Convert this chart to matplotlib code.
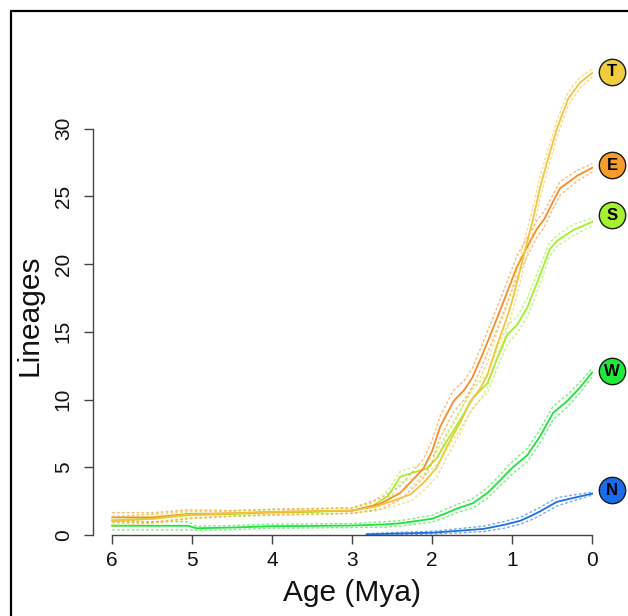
import matplotlib
matplotlib.use("Agg")
import matplotlib.pyplot as plt
from matplotlib.patches import Rectangle
import numpy as np

plt.rcParams["font.family"] = ["Liberation Sans", "DejaVu Sans"]

# ── Lineage-through-time curves (mean + CI half-width) per clade ──

T_AGE = [6, 5.5, 5.05, 4.5, 4, 3.5, 3, 2.7, 2.5, 2.27, 2.1, 1.94, 1.81, 1.65,
         1.52, 1.4, 1.31, 1.19, 1.05, 0.99, 0.84, 0.74, 0.65, 0.56, 0.44, 0.3, 0.15, 0]
T_VAL = [1.0, 1.2, 1.5, 1.6, 1.7, 1.75, 1.8, 2.1, 2.5, 3.0, 3.9, 5.0, 6.6, 8.3,
         9.9, 10.8, 11.8, 14.0, 16.3, 17.5, 21.0, 23.3, 25.7, 27.6, 30.0, 32.2, 33.4, 34.1]
T_CI = [0.35, 0.35, 0.3, 0.2, 0.2, 0.2, 0.2, 0.3, 0.4, 0.5, 0.6, 0.7, 0.8, 0.8,
        0.8, 0.8, 0.9, 0.9, 0.9, 0.9, 0.9, 0.9, 0.8, 0.7, 0.6, 0.5, 0.4, 0.3]

E_AGE = [6, 5.5, 5.05, 4.5, 4, 3.5, 3, 2.65, 2.4, 2.11, 2.0, 1.9, 1.73, 1.6,
         1.5, 1.38, 1.27, 1.11, 0.94, 0.8, 0.69, 0.6, 0.49, 0.4, 0.19, 0]
E_VAL = [1.3, 1.3, 1.55, 1.6, 1.7, 1.75, 1.8, 2.3, 3.1, 4.9, 6.2, 8.0, 9.9, 10.7,
         11.6, 13.2, 14.8, 17.2, 19.8, 21.4, 22.6, 23.3, 24.6, 25.6, 26.5, 27.1]
E_CI = [0.35, 0.35, 0.3, 0.2, 0.2, 0.2, 0.2, 0.4, 0.5, 0.7, 0.8, 0.8, 0.8, 0.7,
        0.7, 0.8, 0.8, 0.8, 0.8, 0.7, 0.6, 0.6, 0.5, 0.5, 0.4, 0.3]

S_AGE = [6, 5.5, 5.05, 4.5, 4, 3.5, 3, 2.75, 2.55, 2.4, 2.24, 2.07, 1.94, 1.81,
         1.65, 1.49, 1.31, 1.19, 1.06, 0.94, 0.81, 0.69, 0.6, 0.53, 0.44, 0.24, 0]
S_VAL = [1.1, 1.2, 1.45, 1.55, 1.65, 1.7, 1.8, 2.1, 2.9, 4.3, 4.6, 4.9, 5.7, 7.0,
         8.5, 10.1, 11.2, 13.0, 14.8, 15.5, 16.8, 18.6, 20.0, 21.1, 21.7, 22.5, 23.1]
S_CI = [0.3, 0.3, 0.25, 0.2, 0.2, 0.2, 0.2, 0.3, 0.4, 0.4, 0.4, 0.4, 0.5, 0.6,
        0.7, 0.7, 0.7, 0.7, 0.7, 0.6, 0.7, 0.7, 0.6, 0.5, 0.4, 0.4, 0.3]

W_AGE = [6, 5.05, 4.95, 4.5, 4, 3.5, 3, 2.6, 2.4, 2.0, 1.85, 1.69, 1.49, 1.31,
         1.19, 1.06, 0.99, 0.81, 0.65, 0.49, 0.31, 0.15, 0]
W_VAL = [0.68, 0.68, 0.5, 0.55, 0.65, 0.67, 0.7, 0.78, 0.86, 1.2, 1.55, 1.95, 2.35, 3.1,
         3.8, 4.6, 5.0, 5.9, 7.3, 9.0, 9.9, 10.9, 12.0]
W_CI = [0.3, 0.3, 0.15, 0.15, 0.15, 0.15, 0.15, 0.2, 0.2, 0.25, 0.3, 0.3, 0.35, 0.4,
        0.4, 0.45, 0.45, 0.5, 0.5, 0.5, 0.45, 0.4, 0.3]

N_AGE = [2.82, 2.5, 2.0, 1.7, 1.36, 1.1, 0.9, 0.75, 0.65, 0.44, 0.19, 0]
N_VAL = [0.05, 0.1, 0.17, 0.3, 0.45, 0.75, 1.05, 1.45, 1.75, 2.45, 2.8, 3.05]
N_CI = [0.05, 0.08, 0.1, 0.15, 0.2, 0.25, 0.25, 0.3, 0.3, 0.3, 0.2, 0.1]

CLADES = ["N", "W", "S", "E", "T"]
CURVES = {
    "T": (T_AGE, T_VAL, T_CI),
    "E": (E_AGE, E_VAL, E_CI),
    "S": (S_AGE, S_VAL, S_CI),
    "W": (W_AGE, W_VAL, W_CI),
    "N": (N_AGE, N_VAL, N_CI),
}
LABEL_Y = {"T": 34.2, "E": 27.3, "S": 23.6, "W": 12.1, "N": 3.3}

LINE_COLORS = {"T": "#F2C53D", "E": "#F78D28", "S": "#A3EE2F", "W": "#22E23A", "N": "#1F6FE6"}
DOT_COLORS = {"T": "#F0CD3C", "E": "#F79C2A", "S": "#A5F030", "W": "#1FEA3A", "N": "#1A6CEE"}

X_TICKS = [6, 5, 4, 3, 2, 1, 0]
Y_TICKS = [0, 5, 10, 15, 20, 25, 30]

fig = plt.figure(figsize=(6.28, 6.16), dpi=100)
ax = fig.add_axes([93 / 628, 81 / 616, 518.4 / 628, 474.25 / 616])

for clade in CLADES:
    age, val, ci = (np.asarray(a, dtype=float) for a in CURVES[clade])
    col = LINE_COLORS[clade]
    for band in (val - ci, val + ci):
        ax.plot(age, band, color=col, lw=1.0, alpha=0.6,
                linestyle=(0, (2, 1.5)), clip_on=False)
    ax.plot(age, val, color=col, lw=1.3, clip_on=False)

# circled clade labels at the present-day end of each curve
for clade in CLADES:
    ax.plot(-0.25, LABEL_Y[clade], "o", ms=19, mfc=DOT_COLORS[clade],
            mec="#1a1a1a", mew=1.0, clip_on=False, zorder=5)
    ax.text(-0.25, LABEL_Y[clade], clade, ha="center", va="center",
            fontsize=12, fontweight="bold", color="black", zorder=6)

ax.set_xlim(6.24, -0.24)
ax.set_ylim(0, 35)
ax.set_xticks(X_TICKS)
ax.set_xticklabels([str(t) for t in X_TICKS])
ax.set_yticks(Y_TICKS)
ax.set_yticklabels([str(t) for t in Y_TICKS], rotation=90, va="center")

for side in ("top", "right"):
    ax.spines[side].set_visible(False)
ax.spines["left"].set_bounds(0, 30)
ax.spines["bottom"].set_bounds(0, 6)
for side in ("left", "bottom"):
    ax.spines[side].set_color("#444444")
    ax.spines[side].set_linewidth(1.0)
ax.tick_params(direction="out", length=6.5, width=1.0, color="#444444",
               labelsize=15, labelcolor="#111111")
ax.tick_params(axis="y", pad=8)
ax.tick_params(axis="x", pad=5)
ax.patch.set_visible(False)

fig.text(352 / 628, 1 - 593 / 616, "Age (Mya)", ha="center", va="center",
         fontsize=21.5, color="#111111")
fig.text(30 / 628, 1 - 315 / 616, "Lineages", ha="center", va="center",
         rotation=90, fontsize=21.5, color="#111111")

# panel frame, open to the right and bottom
fig.add_artist(Rectangle((10.5 / 628, -0.2), 1.2, 1.2 - 10.5 / 616 + 0.0,
                         transform=fig.transFigure, fill=False,
                         edgecolor="black", lw=1.6))

fig.savefig("out.png", dpi=100)
